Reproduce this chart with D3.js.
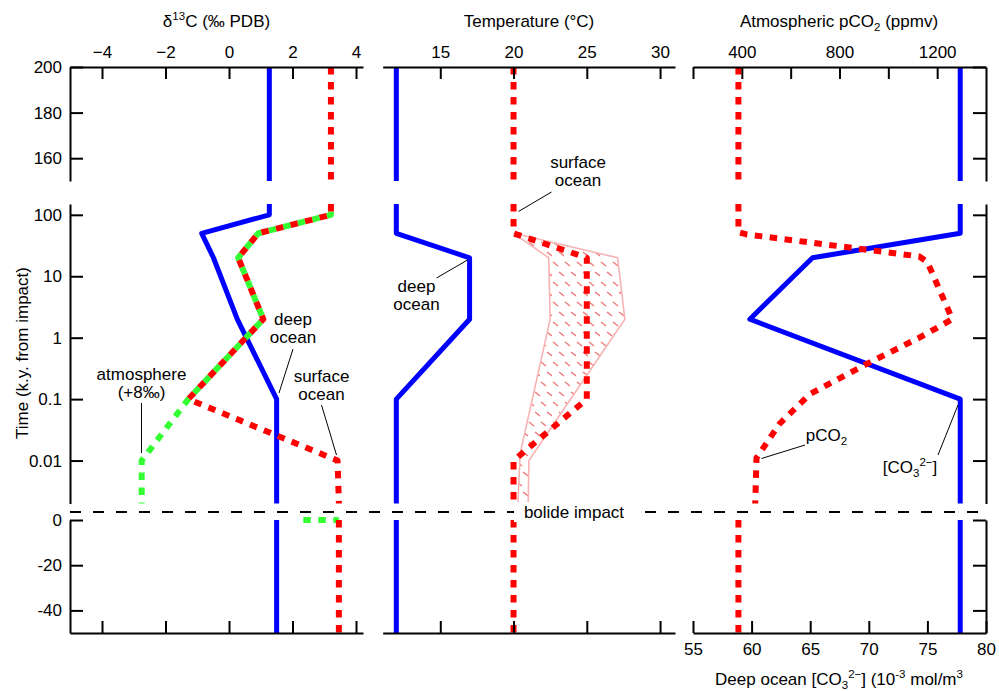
<!DOCTYPE html>
<html>
<head>
<meta charset="utf-8">
<script src="https://cdn.jsdelivr.net/npm/d3@7"></script>
<style>
  body { margin: 0; background: #fff; }
  text { font-family: "Liberation Sans", Arial, Helvetica, sans-serif; }
</style>
</head>
<body>
<div id="chart"></div>
<script>
// ---- data: [time (k.y. from impact), value], split by the 3 time segments ----
// panel 1: d13C
var deepD13cTop = [[200, 1.27], [150, 1.27]];
var deepD13cMid = [[150, 1.27], [100, 1.27], [50, -0.86], [20, -0.49], [2, 0.26], [0.1, 1.5], [0.002, 1.5]];
var deepD13cBot = [[0, 1.5], [-50, 1.5]];
var surfD13cTop = [[200, 3.21], [150, 3.21]];
var surfD13cMid = [[150, 3.21], [100, 3.21], [50, 0.92], [20, 0.29], [2, 1.08], [0.1, -1.28], [0.01, 3.42], [0.002, 3.46]];
var surfD13cBot = [[0, 3.46], [-50, 3.46]];
var atmD13cMid = [[150, 3.21], [100, 3.21], [50, 0.92], [20, 0.29], [2, 1.08], [0.1, -1.28], [0.01, -2.75], [0.002, -2.75]];
var atmD13cBot = [[0, 2.34], [0, 3.46]];

// panel 2: temperature
var deepTempTop = [[200, 12], [150, 12]];
var deepTempMid = [[150, 12], [50, 12], [20, 17], [2, 17], [0.1, 12], [0.002, 12]];
var deepTempBot = [[0, 12], [-50, 12]];
var surfTempTop = [[200, 20], [150, 20]];
var surfTempMid = [[150, 20], [50, 20], [20, 25], [0.1, 25], [0.01, 20], [0.002, 20]];
var surfTempBot = [[0, 20], [-50, 20]];
var tempBandLeft = [[50, 20], [20, 22.4], [2, 22.5], [0.013, 20.45], [0.002, 20.3]];
var tempBandRight = [[0.002, 21], [0.01, 21.05], [2, 27.6], [20, 27.1], [50, 20]];

// panel 3: pCO2 (top axis) and deep ocean [CO3 2-] (bottom axis)
var pco2Top = [[200, 386], [150, 386]];
var pco2Mid = [[150, 386], [52, 386], [48, 420], [21, 1127], [17, 1160], [2, 1262], [1, 1127], [0.37, 909], [0.12, 678], [0.04, 555], [0.011, 460], [0.002, 455]];
var pco2Bot = [[0, 386], [-50, 386]];
var co3Top = [[200, 77.8], [150, 77.8]];
var co3Mid = [[150, 77.8], [50, 77.8], [20, 65.2], [2, 59.85], [0.1, 77.8], [0.002, 77.8]];
var co3Bot = [[0, 77.8], [-50, 77.8]];

// ticks
var topTicks = [160, 180, 200];
var midTicks = [0.01, 0.1, 1, 10, 100];
var botTicks = [-40, -20, 0];
var d13cTicks = [-4, -2, 0, 2, 4];
var tempTicks = [15, 20, 25, 30];
var pco2Ticks = [200, 400, 600, 800, 1000, 1200];
var pco2Labels = [400, 800, 1200];
var co3Ticks = [55, 60, 65, 70, 75, 80];

var svgWidth = 999, svgHeight = 691;
var fs = '17px', fsSmall = '11.5px';
var svg = d3.select('#chart').append('svg')
    .attr('width', svgWidth)
    .attr('height', svgHeight);

var blue = '#0000ff', red = '#ff0000', green = '#33ff33', pink = '#f7b4b4';

// y scales for the 3 segments
var yTop = d3.scaleLinear().domain([150, 200]).range([181, 67]);
var yMid = d3.scaleLog().domain([0.002, 150]).range([503.5, 204]);
var yBot = d3.scaleLinear().domain([-50, 0]).range([633, 520]);

// x scales
var x1 = d3.scaleLinear().domain([-5.008, 4.22]).range([70, 363]);
var x2 = d3.scaleLinear().domain([11.07, 31.02]).range([382.7, 675]);
var x3 = d3.scaleLinear().domain([200, 1400]).range([693, 986]);
var x3b = d3.scaleLinear().domain([55, 80]).range([693, 986]);

// hatch pattern for the temperature band
var defs = svg.append('defs');
var pat = defs.append('pattern')
    .attr('id', 'hatch')
    .attr('patternUnits', 'userSpaceOnUse')
    .attr('width', 12).attr('height', 20);
pat.append('line').attr('x1', 1).attr('y1', 2).attr('x2', 6).attr('y2', 6)
    .attr('stroke', '#f07a7a').attr('stroke-width', 1.5);
pat.append('line').attr('x1', 7).attr('y1', 12).attr('x2', 12).attr('y2', 16)
    .attr('stroke', '#f07a7a').attr('stroke-width', 1.5);

function drawLine(data, xs, ys, color, width, dash, offset) {
    var line = d3.line().x(d => xs(d[1])).y(d => ys(d[0]));
    var p = svg.append('path')
        .attr('d', line(data))
        .attr('fill', 'none')
        .attr('stroke', color)
        .attr('stroke-width', width)
        .attr('stroke-linejoin', 'round');
    if (dash) p.attr('stroke-dasharray', dash).attr('stroke-dashoffset', offset || 0);
    return p;
}

var dots = '7.5,7.5';

// temperature band
var bandLine = d3.line().x(d => x2(d[1])).y(d => yMid(d[0]));
svg.append('path')
    .attr('d', bandLine(tempBandLeft.concat(tempBandRight)) + 'Z')
    .attr('fill', 'url(#hatch)')
    .attr('stroke', pink)
    .attr('stroke-width', 1.6);

// panel 1
drawLine(deepD13cTop, x1, yTop, blue, 5);
drawLine(deepD13cMid, x1, yMid, blue, 5);
drawLine(deepD13cBot, x1, yBot, blue, 5);
drawLine(atmD13cMid, x1, yMid, green, 6, dots, 7.5);
drawLine(atmD13cBot, x1, yBot, green, 6, dots, 0);
drawLine(surfD13cTop, x1, yTop, red, 6, dots);
drawLine(surfD13cMid, x1, yMid, red, 6, dots);
drawLine(surfD13cBot, x1, yBot, red, 6, dots);

// panel 2
drawLine(deepTempTop, x2, yTop, blue, 5);
drawLine(deepTempMid, x2, yMid, blue, 5);
drawLine(deepTempBot, x2, yBot, blue, 5);
drawLine(surfTempTop, x2, yTop, red, 6, dots);
drawLine(surfTempMid, x2, yMid, red, 6, dots);
drawLine(surfTempBot, x2, yBot, red, 6, dots);

// panel 3
drawLine(co3Top, x3b, yTop, blue, 5);
drawLine(co3Mid, x3b, yMid, blue, 5);
drawLine(co3Bot, x3b, yBot, blue, 5);
drawLine(pco2Top, x3, yTop, red, 6, dots);
drawLine(pco2Mid, x3, yMid, red, 6, dots);
drawLine(pco2Bot, x3, yBot, red, 6, dots);

// axes
function styleAxis(g) {
    g.select('.domain').attr('stroke', '#000').attr('stroke-width', 2);
    g.selectAll('.tick line').attr('stroke', '#000').attr('stroke-width', 2);
    g.selectAll('.tick text').attr('fill', '#000')
        .style('font-size', fs)
        .style('font-family', '"Liberation Sans", Arial, Helvetica, sans-serif');
}

// top x axes
svg.append('g').attr('transform', 'translate(0,67)')
    .call(d3.axisTop(x1).tickValues(d13cTicks).tickSize(-12).tickSizeOuter(0).tickPadding(9))
    .call(styleAxis);
svg.append('g').attr('transform', 'translate(0,67)')
    .call(d3.axisTop(x2).tickValues(tempTicks).tickSize(-12).tickSizeOuter(0).tickPadding(9))
    .call(styleAxis);
svg.append('g').attr('transform', 'translate(0,67)')
    .call(d3.axisTop(x3).tickValues(pco2Ticks).tickSize(-12).tickSizeOuter(0).tickPadding(9)
        .tickFormat(d => pco2Labels.indexOf(d) >= 0 ? d : ''))
    .call(styleAxis);

// bottom x axes
svg.append('g').attr('transform', 'translate(0,633)')
    .call(d3.axisBottom(x1).tickValues(d13cTicks).tickSize(-12).tickSizeOuter(0).tickFormat(''))
    .call(styleAxis);
svg.append('g').attr('transform', 'translate(0,633)')
    .call(d3.axisBottom(x2).tickValues(tempTicks).tickSize(-12).tickSizeOuter(0).tickFormat(''))
    .call(styleAxis);
svg.append('g').attr('transform', 'translate(0,633)')
    .call(d3.axisBottom(x3b).tickValues(co3Ticks).tickSize(-12).tickSizeOuter(0).tickPadding(10))
    .call(styleAxis);

// left and right y axes, per segment
var segs = [[yTop, topTicks], [yMid, midTicks], [yBot, botTicks]];
segs.forEach(function(s) {
    svg.append('g').attr('transform', 'translate(70,0)')
        .call(d3.axisLeft(s[0]).tickValues(s[1]).tickSize(-13).tickSizeOuter(0).tickPadding(8)
            .tickFormat(d => String(d)))
        .call(styleAxis);
    svg.append('g').attr('transform', 'translate(986,0)')
        .call(d3.axisRight(s[0]).tickValues(s[1]).tickSize(-13).tickSizeOuter(0).tickFormat(''))
        .call(styleAxis);
});

// bolide impact line
svg.append('line')
    .attr('x1', 70).attr('x2', 980).attr('y1', 512).attr('y2', 512)
    .attr('stroke', '#000').attr('stroke-width', 2)
    .attr('stroke-dasharray', '11,12');
svg.append('rect').attr('x', 514).attr('y', 502).attr('width', 121).attr('height', 20).attr('fill', '#fff');
svg.append('text').attr('x', 574).attr('y', 518).attr('text-anchor', 'middle')
    .style('font-size', fs).text('bolide impact');

// titles
function title(x, y, parts, anchor) {
    var t = svg.append('text').attr('x', x).attr('y', y)
        .attr('text-anchor', anchor || 'middle')
        .style('font-size', fs);
    parts.forEach(function(p) {
        var ts = t.append('tspan').text(p[0]);
        if (p[1]) ts.attr('dy', p[1]);
        if (p[2]) ts.style('font-size', p[2]);
    });
    return t;
}
title(216.5, 27, [['δ'], ['13', -7, fsSmall], ['C (‰ PDB)', 7]]);
title(529, 27, [['Temperature (°C)']]);
title(839, 27, [['Atmospheric pCO'], ['2', 4, fsSmall], [' (ppmv)', -4]]);
title(839, 685, [['Deep ocean [CO'], ['3', 4, fsSmall], ['2−', -11, fsSmall], ['] (10', 7], ['-3', -7, fsSmall],
    [' mol/m', 7], ['3', -7, fsSmall]]);

svg.append('text')
    .attr('transform', 'translate(28,353) rotate(-90)')
    .attr('text-anchor', 'middle')
    .style('font-size', fs)
    .text('Time (k.y. from impact)');

// annotations
function note(x, y, lines) {
    lines.forEach(function(l, i) {
        svg.append('text').attr('x', x).attr('y', y + i * 18).attr('text-anchor', 'middle')
            .style('font-size', fs).text(l);
    });
}
function leader(xa, ya, xb, yb) {
    svg.append('line').attr('x1', xa).attr('y1', ya).attr('x2', xb).attr('y2', yb)
        .attr('stroke', '#000').attr('stroke-width', 1);
}
note(293, 325, ['deep', 'ocean']);
leader(293, 349, 279, 393);
note(321.5, 382, ['surface', 'ocean']);
leader(321.5, 405, 336.5, 455);
note(141.5, 380, ['atmosphere', '(+8‰)']);
leader(141.5, 403, 141.5, 453);

note(416.5, 292, ['deep', 'ocean']);
leader(436.5, 278, 467.5, 260);
note(578, 168, ['surface', 'ocean']);
leader(551.5, 192, 518.5, 211.5);

title(826.5, 441, [['pCO'], ['2', 4, fsSmall]]);
leader(805, 445, 761.5, 458.5);
title(910, 473, [['[CO'], ['3', 4, fsSmall], ['2−', -11, fsSmall], [']', 7]]);
leader(938, 455, 958, 405);
</script>
</body>
</html>
